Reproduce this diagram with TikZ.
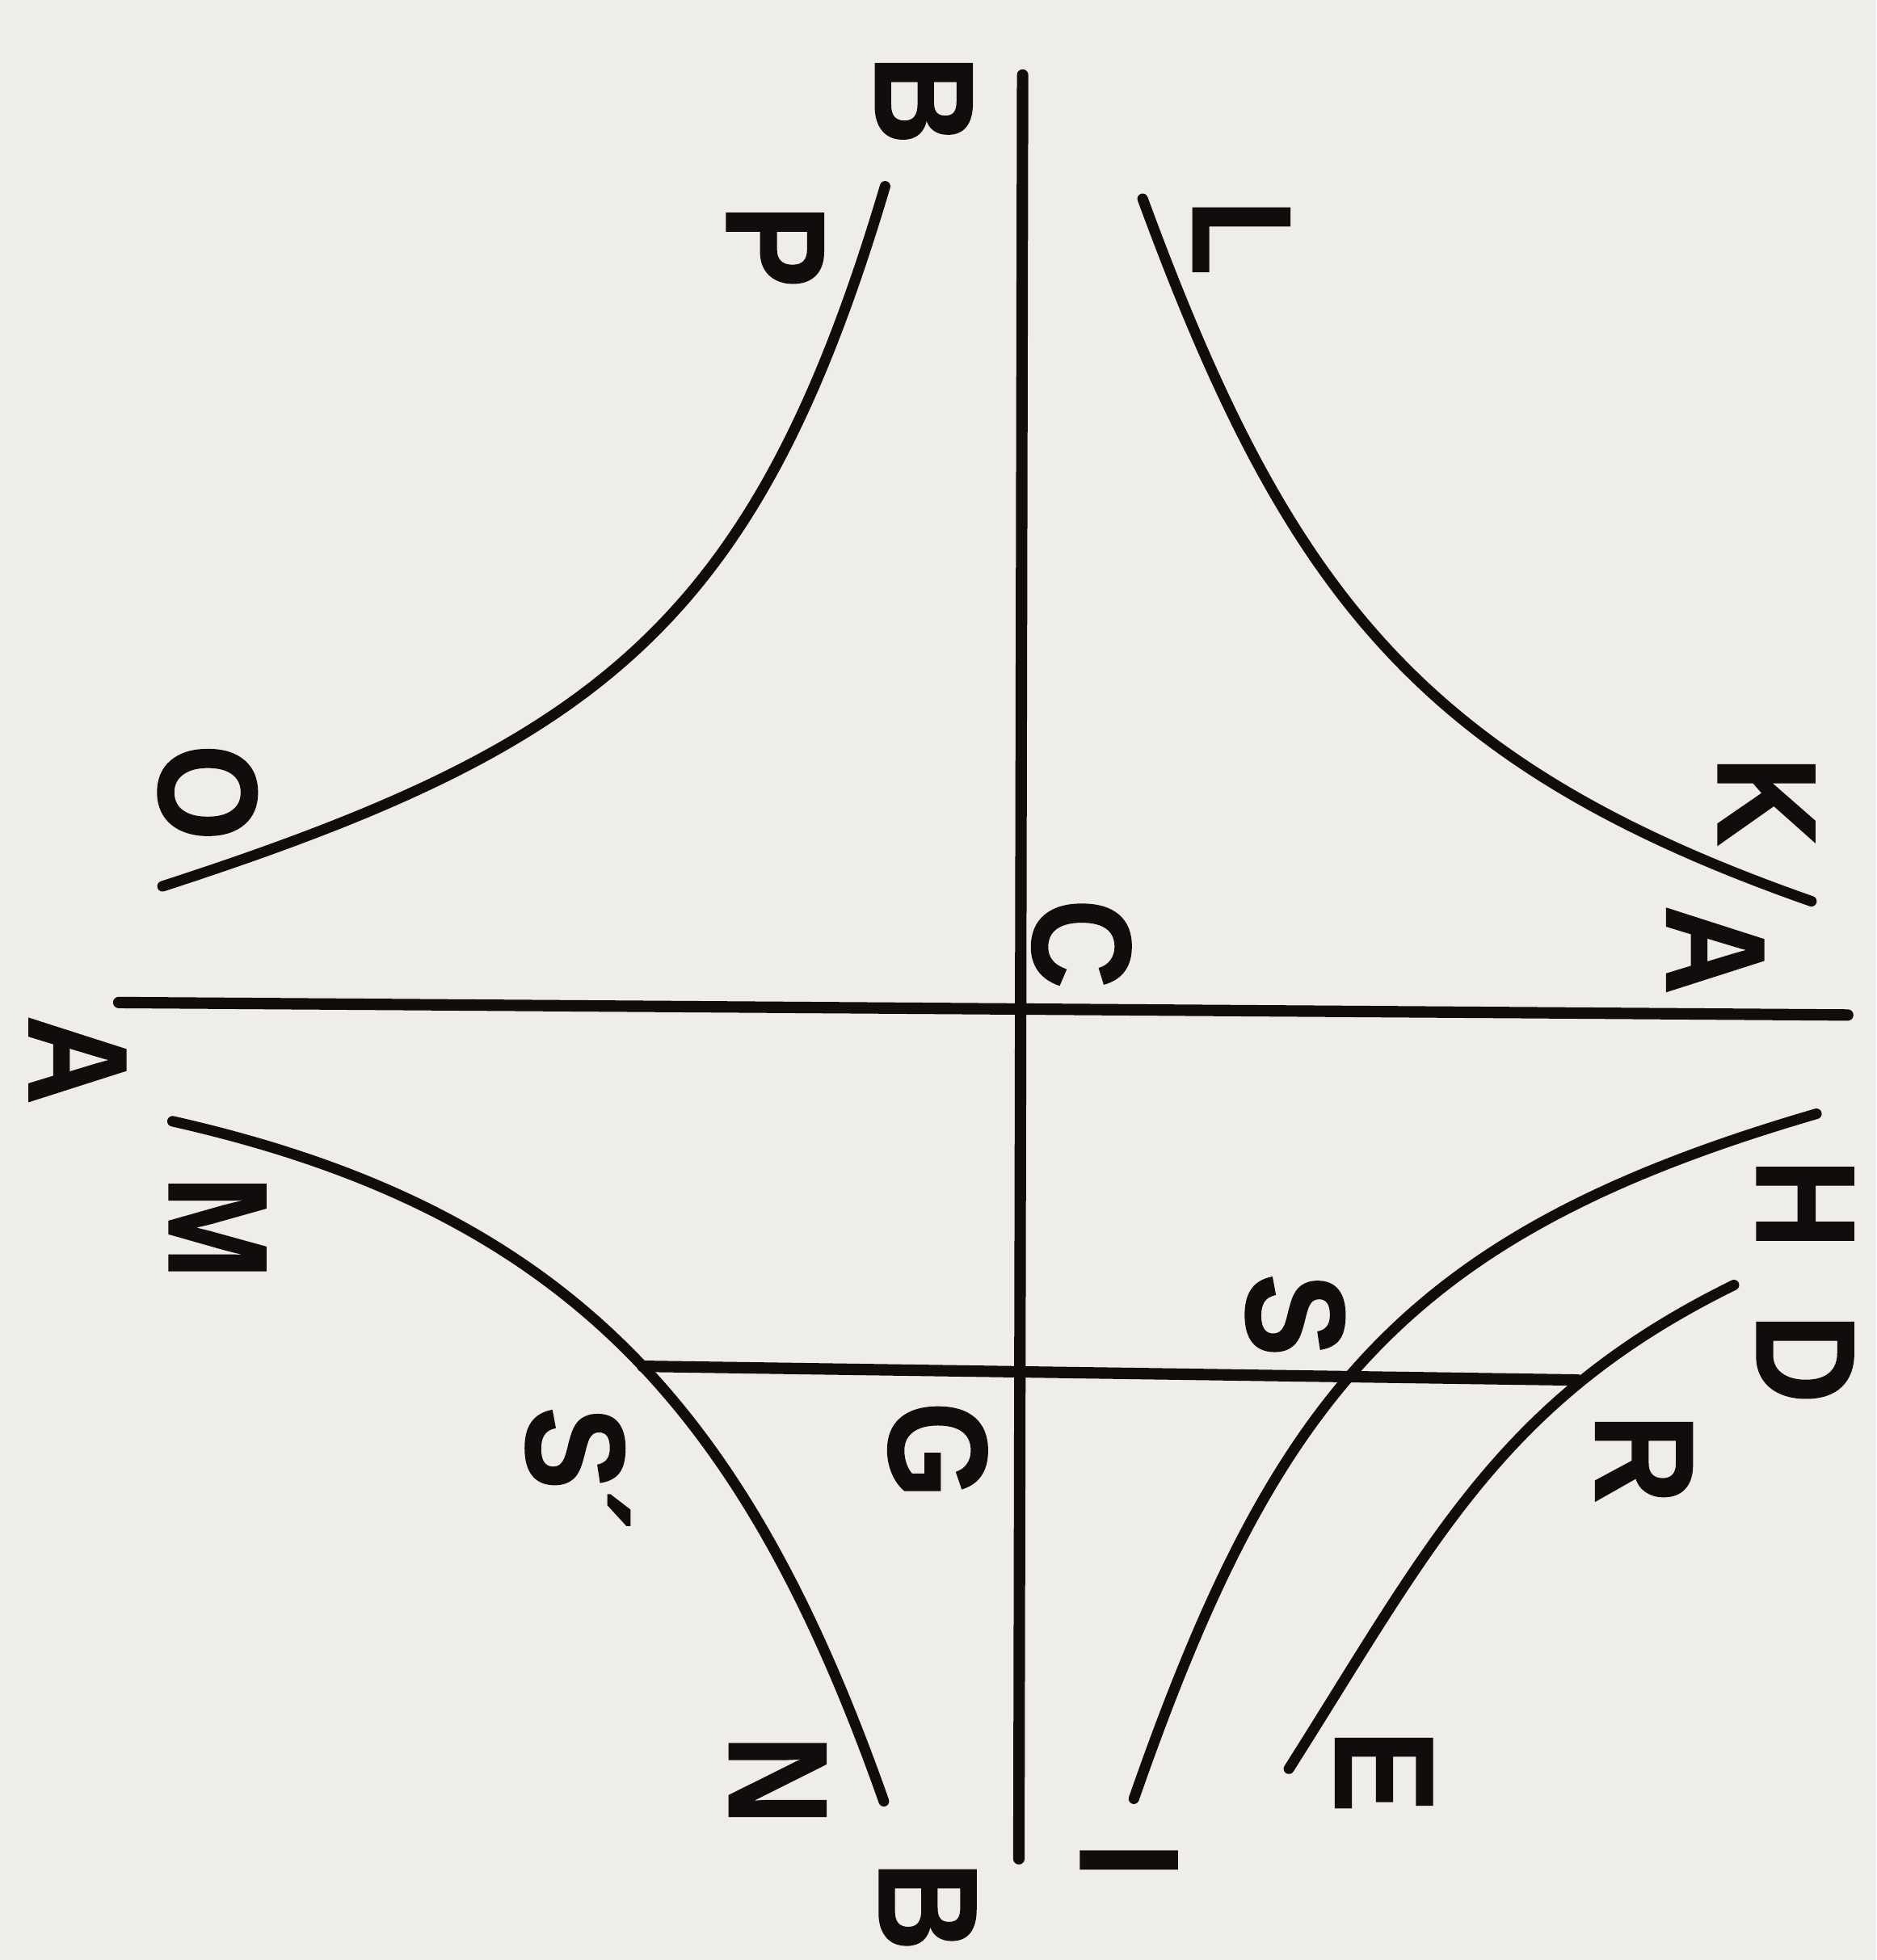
\documentclass[tikz,border=0pt]{standalone}
\usepackage{fontspec}
\setmainfont{Liberation Sans}[BoldFeatures={FakeBold=1}]
\usepackage{tikz}
\usetikzlibrary{calc}
\definecolor{paper}{RGB}{239,237,231}
\definecolor{ink}{RGB}{18,12,12}
\newcommand{\lt}[1]{\scalebox{0.88}[1]{#1}}

\begin{document}
\begin{tikzpicture}[x=0.01cm,y=-0.01cm,
    lett/.style={rotate=-90,inner sep=0pt,text=ink,font=\fontsize{32}{32}\selectfont\bfseries},
    axis/.style={ink,line width=2.6pt,line cap=round},
    curve/.style={ink,line width=2.4pt,line cap=round}]
  \fill[paper] (0,0) rectangle (1501,1568);
  \useasboundingbox (0,0) rectangle (1501,1568);

  %% axes
  \coordinate (Btop) at (818,60);
  \coordinate (Bbot) at (815,1487);
  \coordinate (Alft) at (95,802);
  \coordinate (Argt) at (1478,812);
  \draw[axis] (Btop) -- (Bbot);
  \draw[axis] (Alft) -- (Argt);

  %% ordinate through G
  \coordinate (Sp) at (514,1093);
  \coordinate (Rp) at (1262,1104);
  \draw[axis] (Sp) -- (Rp);

  %% the four opposite hyperbolas
  \coordinate (Oe) at (130,709);
  \coordinate (Pe) at (708,149);
  \coordinate (Le) at (914,159);
  \coordinate (Ke) at (1449,721);
  \coordinate (Me) at (138,897);
  \coordinate (Ne) at (707,1441);
  \coordinate (He) at (1453,891);
  \coordinate (Ie) at (907,1439);
  \draw[curve] (Oe) .. controls (478,596) and (604,500) .. (Pe);
  \draw[curve] (Le) .. controls (1029,472) and (1135,611) .. (Ke);
  \draw[curve] (Me) .. controls (458,969) and (598,1132) .. (Ne);
  \draw[curve] (He) .. controls (1124,987) and (1020,1115) .. (Ie);

  %% conjugate curve D-E
  \coordinate (De) at (1387,1028);
  \coordinate (Ee) at (1031,1415);
  \draw[curve] (De) .. controls (1200,1120) and (1145,1235) .. (Ee);

  %% letters
  \node[lett] (B1) at (739,80) {\lt{B}};
  \node[lett] (P) at (620,197) {\lt{P}};
  \node[lett] (L) at (993,190) {\lt{L}};
  \node[lett] (O) at (166,634) {\lt{O}};
  \node[lett] (K) at (1413,641) {\lt{K}};
  \node[lett] (A1) at (1372,760) {\lt{A}};
  \node[lett] (C) at (865,755) {\lt{C}};
  \node[lett] (A2) at (62,848) {\lt{A}};
  \node[lett] (M) at (174,982) {\lt{M}};
  \node[lett] (H) at (1444,963) {\lt{H}};
  \node[lett] (S) at (1036,1052) {\lt{S}};
  \node[lett] (D) at (1444,1087) {\lt{D}};
  \node[lett] (S2) at (462,1175) {\lt{S´}};
  \node[lett] (G) at (750,1160) {\lt{G}};
  \node[lett] (R) at (1315,1167) {\lt{R}};
  \node[lett] (N) at (622,1424) {\lt{N}};
  \node[lett] (B2) at (742,1525) {\lt{B}};
  \node[lett] (I) at (903,1488) {\lt{I}};
  \node[lett] (E) at (1107,1417) {\lt{E}};
\end{tikzpicture}
\end{document}
